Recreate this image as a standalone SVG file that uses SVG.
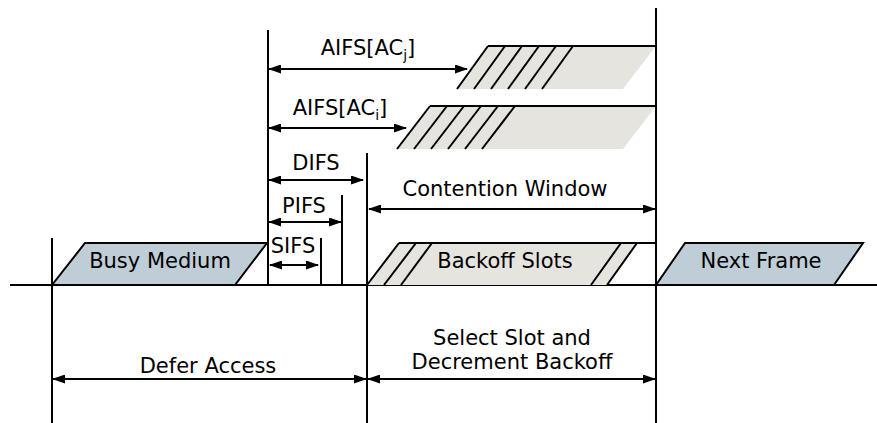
<svg xmlns="http://www.w3.org/2000/svg" width="877" height="423" viewBox="0 0 877 423">
<style>
text{font-family:"DejaVu Sans","Liberation Sans",sans-serif;font-size:21px;fill:#000;text-anchor:middle}
.ln{stroke:#000;stroke-width:2;fill:none}
.blue{fill:#bfcdd6;stroke:#000;stroke-width:2;stroke-linejoin:miter}
.gray{fill:#e5e4df;stroke:none}
.arr{stroke:#000;stroke-width:2;fill:none;marker-start:url(#ah);marker-end:url(#ah)}
.sub{font-size:14px}
</style>
<defs>
<marker id="ah" markerWidth="13" markerHeight="9" refX="12" refY="4.5" orient="auto-start-reverse" markerUnits="userSpaceOnUse">
<path d="M0,0 L13,4.5 L0,9 z" fill="#000"/>
</marker>
</defs>
<g id="timeline">
<line class="ln" x1="10" y1="285" x2="877" y2="285"/>
<line class="ln" x1="52" y1="238" x2="52" y2="423"/>
<line class="ln" x1="268" y1="30" x2="268" y2="285"/>
<line class="ln" x1="321" y1="238" x2="321" y2="285"/>
<line class="ln" x1="342" y1="195" x2="342" y2="285"/>
<line class="ln" x1="367" y1="153" x2="367" y2="423"/>
<line class="ln" x1="656" y1="8" x2="656" y2="423"/>
</g>
<g id="busy-medium">
<polygon class="blue" points="52,285 85,243 267,243 235,285"/>
<text x="160" y="268">Busy Medium</text>
</g>
<g id="next-frame">
<polygon class="blue" points="656,285 685,243 863,243 834,285"/>
<text x="761" y="268">Next Frame</text>
</g>
<g id="backoff-slots">
<polygon class="gray" points="367,285 399,243 637,243 607,285"/>
<line class="ln" x1="399" y1="243" x2="656" y2="243"/>
<line class="ln" x1="367" y1="285" x2="399" y2="243"/>
<line class="ln" x1="384" y1="285" x2="416" y2="243"/>
<line class="ln" x1="401" y1="285" x2="432" y2="243"/>
<line class="ln" x1="591" y1="285" x2="621" y2="243"/>
<line class="ln" x1="607" y1="285" x2="637" y2="243"/>
<text x="505" y="268">Backoff Slots</text>
</g>
<g id="aifs-j-window">
<polygon class="gray" points="488,46 656,46 623,89 457,89"/>
<line class="ln" x1="488" y1="46" x2="656" y2="46"/>
<line class="ln" x1="457" y1="89" x2="488" y2="46"/>
<line class="ln" x1="474" y1="89" x2="505" y2="46"/>
<line class="ln" x1="491" y1="89" x2="522" y2="46"/>
<line class="ln" x1="508" y1="89" x2="539" y2="46"/>
<line class="ln" x1="525" y1="89" x2="556" y2="46"/>
<line class="ln" x1="542" y1="89" x2="573" y2="46"/>
</g>
<g id="aifs-i-window">
<polygon class="gray" points="430,106 656,106 623,149 397,149"/>
<line class="ln" x1="430" y1="106" x2="656" y2="106"/>
<line class="ln" x1="397" y1="149" x2="430" y2="106"/>
<line class="ln" x1="414" y1="149" x2="447" y2="106"/>
<line class="ln" x1="431" y1="149" x2="464" y2="106"/>
<line class="ln" x1="448" y1="149" x2="481" y2="106"/>
<line class="ln" x1="465" y1="149" x2="498" y2="106"/>
<line class="ln" x1="482" y1="149" x2="515" y2="106"/>
</g>
<g id="connectors">
<line class="arr" x1="269" y1="69" x2="467" y2="69"/>
<line class="arr" x1="269" y1="128" x2="406" y2="128"/>
<line class="arr" x1="269" y1="180" x2="363" y2="180"/>
<line class="arr" x1="269" y1="222" x2="341" y2="222"/>
<line class="arr" x1="270" y1="265" x2="318" y2="265"/>
<line class="arr" x1="369" y1="209" x2="655" y2="209"/>
<line class="arr" x1="53" y1="379" x2="366" y2="379"/>
<line class="arr" x1="368" y1="379" x2="655" y2="379"/>
</g>
<g id="labels">
<text x="368" y="55">AIFS[AC<tspan class="sub" dy="5">j</tspan><tspan dy="-5">]</tspan></text>
<text x="340" y="115">AIFS[AC<tspan class="sub" dy="5">i</tspan><tspan dy="-5">]</tspan></text>
<text x="316" y="170">DIFS</text>
<text x="304" y="213">PIFS</text>
<text x="293" y="253">SIFS</text>
<text x="505" y="196">Contention Window</text>
<text x="208" y="373">Defer Access</text>
<text x="512" y="345">Select Slot and</text>
<text x="512" y="369">Decrement Backoff</text>
</g>
</svg>
